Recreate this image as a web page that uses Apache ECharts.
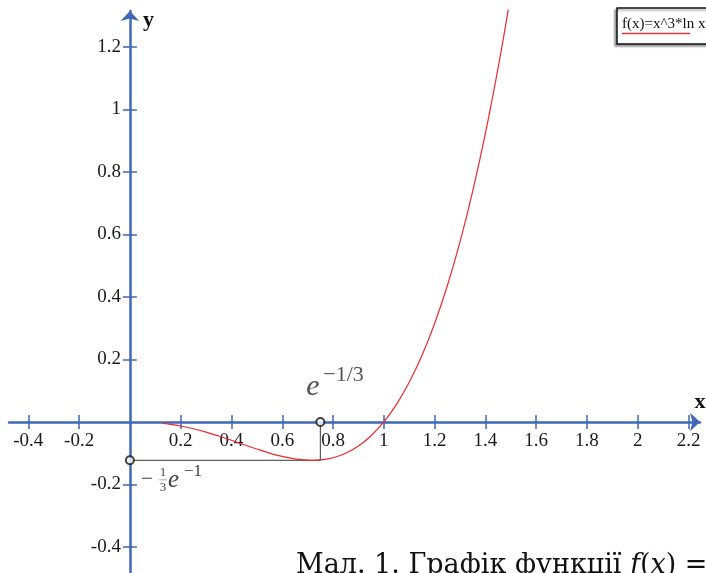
<!DOCTYPE html>
<html>
<head>
<meta charset="utf-8">
<script src="https://cdn.jsdelivr.net/npm/echarts@6/dist/echarts.min.js"></script>
<style>html,body{margin:0;padding:0;background:#fff;}#c{width:706px;height:573px;}</style>
</head>
<body>
<div id="c"></div>
<script>
// ---- data ----
const curveX = [0.13, 0.15, 0.2, 0.25, 0.3, 0.35, 0.4, 0.45, 0.5, 0.55, 0.6, 0.65, 0.7, 0.72, 0.75, 0.8, 0.85, 0.9, 0.95, 1.0, 1.05, 1.1, 1.15, 1.2, 1.25, 1.3, 1.35, 1.4, 1.45, 1.49];
const curveY = [-0.0045, -0.0064, -0.0129, -0.0217, -0.0325, -0.045, -0.0586, -0.0728, -0.0866, -0.0995, -0.1103, -0.1183, -0.1223, -0.1226, -0.1214, -0.1143, -0.0998, -0.0768, -0.044, 0, 0.0565, 0.1269, 0.2126, 0.3151, 0.4358, 0.5764, 0.7384, 0.9233, 1.1327, 1.3191];
const markerX = [0.75, 0];
const markerY = [0, -0.1226];
const guideX = [0, 0.75, 0.75];
const guideY = [-0.1226, -0.1226, 0];
const xTicks = [-0.4, -0.2, 0.2, 0.4, 0.6, 0.8, 1, 1.2, 1.4, 1.6, 1.8, 2, 2.2];
const yTicks = [-0.4, -0.2, 0.2, 0.4, 0.6, 0.8, 1, 1.2];
const xRange = [-0.476, 2.245];
const yRange = [-0.48, 1.315];
const legendText = 'f(x)=x^3*ln x';

const AX = '#3f67b6';
const SERIF = 'Liberation Serif';
const W = 706, H = 573;
const G = {left: 9, right: 6, top: 11, bottom: 1};
const gw = W - G.left - G.right, gh = H - G.top - G.bottom;
// shift axes so they cross at the origin
const xAxisOffset = -gh * (0 - yRange[0]) / (yRange[1] - yRange[0]);
const yAxisOffset = -gw * (0 - xRange[0]) / (xRange[1] - xRange[0]);

const chart = echarts.init(document.getElementById('c'), null, {renderer: 'canvas', width: W, height: H});

function xAxisDef(main) {
  return {
    type: 'value', min: xRange[0], max: xRange[1], position: 'bottom', offset: xAxisOffset,
    axisLine: main ? {show: true, onZero: false, symbol: ['none', 'arrow'], symbolSize: [14, 10], lineStyle: {color: AX, width: 2.5}}
                   : {show: true, onZero: false, lineStyle: {color: AX, width: 2.5, opacity: 0}},
    axisTick: {show: true, inside: !main, length: 7, customValues: xTicks, lineStyle: {color: AX, width: 1.5}},
    axisLabel: main ? {show: true, customValues: xTicks, margin: 10, fontFamily: SERIF, fontSize: 19, color: '#1a1a1a'} : {show: false},
    splitLine: {show: false}
  };
}
function yAxisDef(main) {
  return {
    type: 'value', min: yRange[0], max: yRange[1], position: 'left', offset: yAxisOffset,
    axisLine: main ? {show: true, onZero: false, symbol: ['none', 'arrow'], symbolSize: [14, 10], lineStyle: {color: AX, width: 2.5}}
                   : {show: true, onZero: false, lineStyle: {color: AX, width: 2.5, opacity: 0}},
    axisTick: {show: true, inside: !main, length: 7, customValues: yTicks, lineStyle: {color: AX, width: 1.5}},
    axisLabel: main ? {show: true, customValues: yTicks, margin: 9, fontFamily: SERIF, fontSize: 19, color: '#1a1a1a'} : {show: false},
    splitLine: {show: false}
  };
}

const option = {
  animation: false,
  backgroundColor: '#ffffff',
  grid: {left: G.left, right: G.right, top: G.top, bottom: G.bottom, containLabel: false, outerBoundsMode: 'none'},
  xAxis: [xAxisDef(true), xAxisDef(false)],
  yAxis: [yAxisDef(true), yAxisDef(false)],
  series: [
    {
      type: 'line', name: legendText, xAxisIndex: 0, yAxisIndex: 0,
      data: curveX.map((x, i) => [x, curveY[i]]),
      smooth: 0.4, showSymbol: false, clip: false,
      lineStyle: {color: '#f02a2a', width: 1.2}, z: 3
    },
    {
      type: 'line', xAxisIndex: 0, yAxisIndex: 0,
      data: guideX.map((x, i) => [x, guideY[i]]),
      showSymbol: false, lineStyle: {color: '#3a3a3a', width: 1}, z: 2
    },
    {
      type: 'scatter', xAxisIndex: 0, yAxisIndex: 0,
      data: markerX.map((x, i) => [x, markerY[i]]),
      symbol: 'circle', symbolSize: 8,
      itemStyle: {color: '#ffffff', borderColor: '#111', borderWidth: 2}, z: 5
    }
  ]
};
chart.setOption(option);

function px(x, y) { return chart.convertToPixel({xAxisIndex: 0, yAxisIndex: 0}, [x, y]); }
const p1 = px(markerX[0], markerY[0]);
const p2 = px(markerX[1], markerY[1]);
const pTop = px(0, yRange[1]);
const pRight = px(xRange[1], 0);

chart.setOption({
  graphic: [
    // axis names
    {type: 'text', x: pTop[0] + 13, y: pTop[1] + 9, style: {text: 'y', font: 'bold 22px "Liberation Serif"', fill: '#111', verticalAlign: 'middle', align: 'left'}},
    {type: 'text', x: pRight[0], y: pRight[1] - 20, style: {text: 'x', font: 'bold 22px "Liberation Serif"', fill: '#111', verticalAlign: 'middle', align: 'center'}},
    // e^{-1/3}
    {type: 'text', x: p1[0] - 14, y: p1[1] - 35, style: {text: 'e', font: 'italic 30px "Liberation Serif"', fill: '#555', verticalAlign: 'middle', align: 'left'}},
    {type: 'text', x: p1[0] + 3, y: p1[1] - 47, style: {text: '−1/3', font: '22px "Liberation Serif"', fill: '#555', verticalAlign: 'middle', align: 'left'}},
    // -(1/3) e^{-1}
    {type: 'text', x: p2[0] + 11, y: p2[1] + 19, style: {text: '−', font: '21px "Liberation Serif"', fill: '#444', verticalAlign: 'middle', align: 'left'}},
    {type: 'text', x: p2[0] + 33, y: p2[1] + 12, style: {text: '1', font: '13px "Liberation Serif"', fill: '#444', verticalAlign: 'middle', align: 'center'}},
    {type: 'line', shape: {x1: p2[0] + 29, y1: p2[1] + 19.5, x2: p2[0] + 37, y2: p2[1] + 19.5}, style: {stroke: '#777', lineWidth: 0.6}},
    {type: 'text', x: p2[0] + 33, y: p2[1] + 27, style: {text: '3', font: '13px "Liberation Serif"', fill: '#444', verticalAlign: 'middle', align: 'center'}},
    {type: 'text', x: p2[0] + 38, y: p2[1] + 20, style: {text: 'e', font: 'italic 25px "Liberation Serif"', fill: '#444', verticalAlign: 'middle', align: 'left'}},
    {type: 'text', x: p2[0] + 54, y: p2[1] + 11, style: {text: '−1', font: '17px "Liberation Serif"', fill: '#444', verticalAlign: 'middle', align: 'left'}},
    // legend box
    {type: 'rect', shape: {x: 617, y: 8, width: 100, height: 36}, style: {fill: '#fff', stroke: '#111', lineWidth: 1.5, shadowColor: 'rgba(0,0,0,0.35)', shadowOffsetX: -2, shadowOffsetY: 2, shadowBlur: 2}, z: 10},
    {type: 'text', x: 622, y: 24, style: {text: legendText, font: '15px "Liberation Serif"', fill: '#111', verticalAlign: 'middle', align: 'left'}, z: 11},
    {type: 'line', shape: {x1: 622, y1: 33.5, x2: 690, y2: 33.5}, style: {stroke: '#e53535', lineWidth: 1.5}, z: 11},
    // caption
    {type: 'text', x: 296, y: 566, style: {
      text: '{n|Мал. 1. Графік функції }{i|f}{n|(}{i|x}{n|) =}',
      verticalAlign: 'middle', align: 'left',
      rich: {n: {fontFamily: 'DejaVu Serif', fontSize: 27, fill: '#111'}, i: {fontFamily: 'DejaVu Serif', fontStyle: 'italic', fontSize: 27, fill: '#111'}}
    }}
  ]
});
</script>
</body>
</html>
